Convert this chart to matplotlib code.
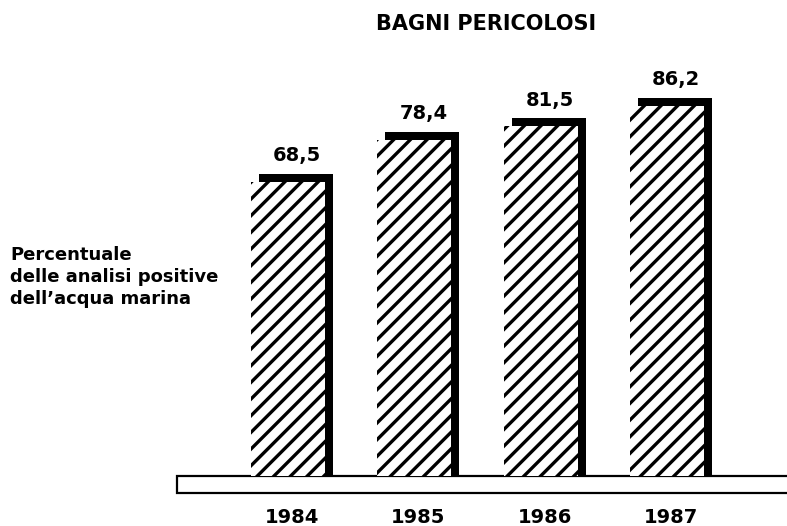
"""Bagni pericolosi: hatched bar chart with drop shadow on a platform base."""

import matplotlib

matplotlib.use("Agg")
import matplotlib.pyplot as plt
import numpy as np
from matplotlib.patches import Rectangle

# data
years = ["1984", "1985", "1986", "1987"]
values = [68.5, 78.4, 81.5, 86.2]
value_labels = ["68,5", "78,4", "81,5", "86,2"]
title = "BAGNI PERICOLOSI"
side_label = "Percentuale\ndelle analisi positive\ndell\u2019acqua marina"

W, H = 787, 526
X0, XSTEP = 288, 126.3      # pixel centre of first bar, spacing between bars
Y0, YSCALE = 476, 4.29      # pixel row of the baseline, pixels per unit

plt.rcParams["font.family"] = ["DejaVu Sans"]
plt.rcParams["hatch.linewidth"] = 2.4

fig = plt.figure(figsize=(W / 100, H / 100), dpi=100)
ax = fig.add_axes([0, 0, 1, 1])
ax.set_xlim((0 - X0) / XSTEP, (W - X0) / XSTEP)
ax.set_ylim(-(H - Y0) / YSCALE, Y0 / YSCALE)
ax.axis("off")

x = np.arange(len(years))
width = 74 / XSTEP
dx = 8 / XSTEP
dy = 8 / YSCALE

# platform under the bars, open on the right
ax.add_patch(Rectangle(((177 - X0) / XSTEP, -17 / YSCALE), 20, 17 / YSCALE,
                       facecolor="white", edgecolor="black", lw=1.6, zorder=1))

# black shadow, then hatched bar in front
ax.bar(x + dx, np.array(values) + dy, width=width, color="black", zorder=2)
ax.bar(x, values, width=width, color="white", edgecolor="black", hatch="//",
       lw=0, zorder=3)

for xi, v, lab in zip(x, values, value_labels):
    ax.annotate(lab, (xi, v), xytext=(6.5, 15), textcoords="offset points",
                ha="center", va="baseline", fontsize=14, fontweight="bold")

for xi, yr in zip(x, years):
    ax.annotate(yr, (xi, 0), xytext=(3, -23), textcoords="offset points",
                ha="center", va="top", fontsize=14, fontweight="bold")

fig.text(486 / W, 1 - 24 / H, title, ha="center", va="center",
         fontsize=15, fontweight="bold")
fig.text(10 / W, 1 - 246 / H, side_label, ha="left", va="top",
         fontsize=13, fontweight="bold", linespacing=1.3)

fig.savefig("out.png", dpi=100, facecolor="white")
